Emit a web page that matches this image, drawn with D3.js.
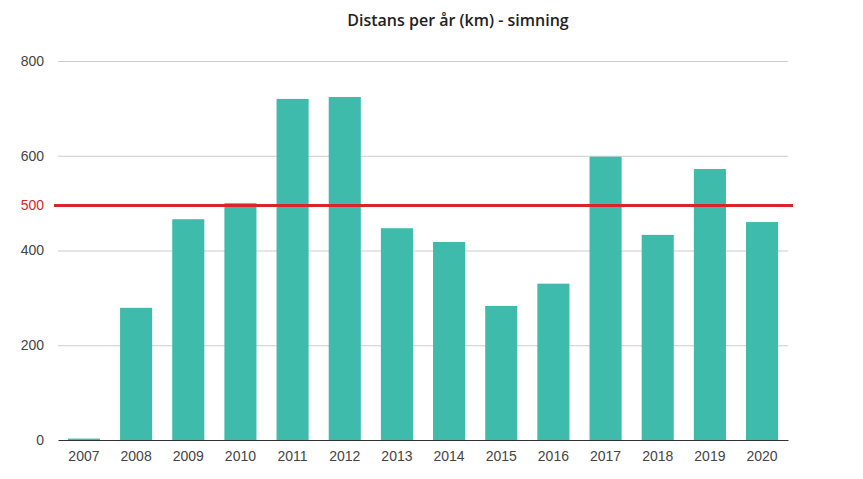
<!DOCTYPE html>
<html><head><meta charset="utf-8">
<script src="https://cdn.jsdelivr.net/npm/d3@7"></script>
<style>body{margin:0;background:#fff}</style>
</head><body>
<svg id="c" width="863" height="479"></svg>
<script>
const years = ["2007","2008","2009","2010","2011","2012","2013","2014","2015","2016","2017","2018","2019","2020"];
const distances = [3,279,466,500,720,724,447,418,283,330,598,433,572,460];
const yTicks = [0,200,400,600,800];
const targetValue = 495;
const targetLabel = "500";
const title = "Distans per år (km) - simning";

(function () {
const svg = d3.select("#c");
const mLeft = 58, mRight = 788, mTop = 61, mBottom = 440;
const x = d3.scaleBand().domain(years).range([mLeft, mRight]).paddingInner(0.385).paddingOuter(0.19);
const y = d3.scaleLinear().domain([0, 800]).range([mBottom, mTop]);

svg.append("text").attr("x", 458).attr("y", 26).attr("text-anchor", "middle")
  .attr("font-family", "Open Sans").attr("font-weight", 600).attr("font-size", 16).attr("fill", "#222").text(title);

const ga = svg.append("g").attr("transform", `translate(${mLeft},0)`)
  .call(d3.axisLeft(y).tickValues(yTicks).tickSize(-(mRight - mLeft)).tickPadding(14).tickFormat(d3.format("d")));
ga.select(".domain").remove();
ga.selectAll(".tick line").attr("stroke", "#ccc").attr("stroke-width", 1);
ga.selectAll(".tick text").attr("font-family", "Liberation Sans, Arial").attr("font-size", 14).attr("fill", "#444");
ga.selectAll(".tick").filter(d => d === 0).select("line").remove();

svg.append("g").selectAll("rect").data(distances).join("rect")
  .attr("x", (d, i) => x(years[i])).attr("width", x.bandwidth())
  .attr("y", d => y(d)).attr("height", d => mBottom - y(d)).attr("fill", "#3ebbab");

const gx = svg.append("g").attr("transform", `translate(0,${mBottom})`)
  .call(d3.axisBottom(x).tickSize(0).tickPadding(11));
gx.select(".domain").attr("stroke", "#333").attr("stroke-width", 1.2);
gx.selectAll(".tick text").attr("font-family", "Liberation Sans, Arial").attr("font-size", 14).attr("fill", "#444");

svg.append("line").attr("x1", 54).attr("x2", 793).attr("y1", y(targetValue)).attr("y2", y(targetValue))
  .attr("stroke", "#d8252d").attr("stroke-width", 3.2);
svg.append("text").attr("x", 44).attr("y", y(targetValue)).attr("dy", "0.35em").attr("text-anchor", "end")
  .attr("font-family", "Liberation Sans, Arial").attr("font-size", 14).attr("fill", "#d8252d").text(targetLabel);
})();
</script>
</body></html>
